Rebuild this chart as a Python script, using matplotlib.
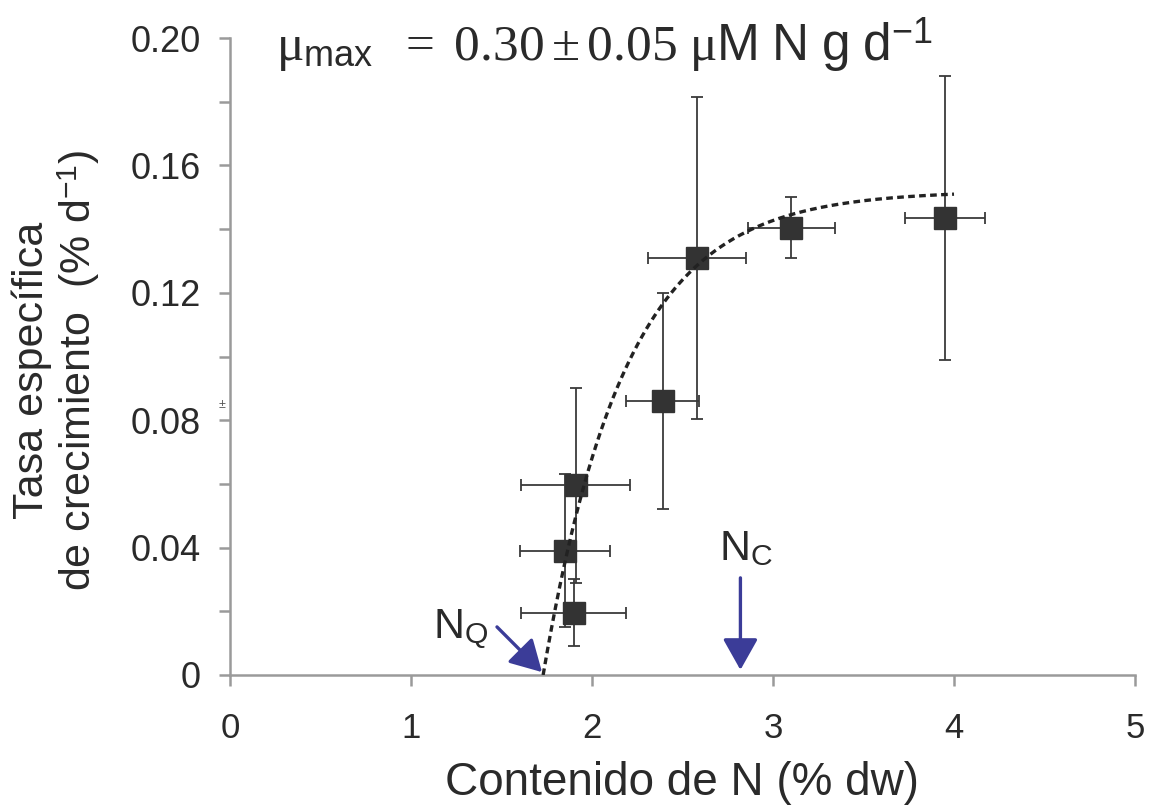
import matplotlib
matplotlib.use('Agg')
import matplotlib.pyplot as plt
import numpy as np

plt.rcParams['font.family'] = ['Liberation Sans', 'DejaVu Sans']
plt.rcParams['mathtext.fontset'] = 'custom'
plt.rcParams['mathtext.rm'] = 'Liberation Serif'
plt.rcParams['mathtext.it'] = 'Liberation Serif:italic'
plt.rcParams['mathtext.sf'] = 'Liberation Sans'

# N content (% dw) vs specific growth rate (% d-1), mean +/- sd
n_content = [1.90, 1.85, 1.91, 2.39, 2.58, 3.10, 3.95]
n_err = [0.29, 0.25, 0.30, 0.20, 0.27, 0.24, 0.22]
growth = [0.0195, 0.039, 0.0595, 0.086, 0.131, 0.1405, 0.1435]
growth_err = [0.0105, 0.024, 0.0305, 0.034, 0.0505, 0.0097, 0.0445]

# saturating fit  mu = a * (1 - exp(-k * (N - Nq)))
fit_a = 0.152
fit_k = 2.2
n_q = 1.73
n_c = 2.82
fit_end = 4.0

x_ticks = [0, 1, 2, 3, 4, 5]
y_ticks = [0, 0.02, 0.04, 0.06, 0.08, 0.10, 0.12, 0.14, 0.16, 0.18, 0.20]
y_labels = ['0', '', '0.04', '', '0.08', '', '0.12', '', '0.16', '', '0.20']

W, H = 1149, 809
fig = plt.figure(figsize=(W / 100, H / 100), dpi=100)
ax = fig.add_axes([230 / W, 1 - 675 / H, 905 / W, 637 / H])

grey = '#9a9a9a'
dark = '#333333'
txt = '#2a2a2a'
blue = '#3b3c98'

xs = np.linspace(n_q, fit_end, 200)
ax.plot(xs, fit_a * (1 - np.exp(-fit_k * (xs - n_q))), color='#222222',
        lw=2.4, linestyle=(0, (2.0, 1.3)), zorder=4)

ax.errorbar(n_content, growth, xerr=n_err, yerr=growth_err, fmt='none',
            ecolor='#3a3a3a', elinewidth=1.3, capsize=4.5, capthick=1.3, zorder=2)
ax.plot(n_content, growth, 's', color=dark, ms=16, zorder=3)

arrow = dict(arrowstyle='-|>,head_length=0.8,head_width=0.45', color=blue,
             lw=2.4, shrinkA=0, shrinkB=0, mutation_scale=24)
ax.annotate('', xy=(n_q - 0.006, 0.0009), xytext=(1.475, 0.0151), arrowprops=arrow)
ax.annotate('', xy=(n_c, 0.0016), xytext=(n_c, 0.0305), arrowprops=arrow)
ax.text(1.12, 0.0115, r'N$_{\mathsf{Q}}$', fontsize=31, color=txt)
ax.text(2.70, 0.036, r'N$_{\mathsf{C}}$', fontsize=31, color=txt)

ax.set_xlim(0, 5)
ax.set_ylim(0, 0.20)
ax.set_xticks(x_ticks)
ax.set_xticklabels([str(v) for v in x_ticks])
ax.set_yticks(y_ticks)
ax.set_yticklabels(y_labels)

for side in ('top', 'right'):
    ax.spines[side].set_visible(False)
for side in ('left', 'bottom'):
    ax.spines[side].set_color(grey)
    ax.spines[side].set_linewidth(1.8)
ax.tick_params(axis='both', direction='out', length=8, width=1.8, color=grey,
               labelcolor=txt)
ax.tick_params(axis='x', pad=19, labelsize=25)
ax.tick_params(axis='y', pad=13, labelsize=26)

fig.text(682 / W, 1 - 795 / H, 'Contenido de N (% dw)', fontsize=33, color=txt,
         ha='center', va='baseline')
fig.text(57 / W, 1 - 370 / H,
         'Tasa específica\nde crecimiento  (% d$^{\\mathsf{-1}}$)', fontsize=31,
         color=txt, rotation=90, ha='center', va='center', linespacing=1.1)

fig.text(276 / W, 1 - 60 / H,
         r'$\mathrm{\mu}_{\mathsf{max}}\ \ =\ 0.30\pm0.05\ \mathrm{\mu}\mathsf{M\ N\ g\ d}^{\mathsf{-1}}$',
         fontsize=37, color=txt, va='baseline')
fig.text(222 / W, 1 - 408 / H, '±', fontsize=9, color='#555555', ha='center')

fig.savefig('out.png', dpi=100)
